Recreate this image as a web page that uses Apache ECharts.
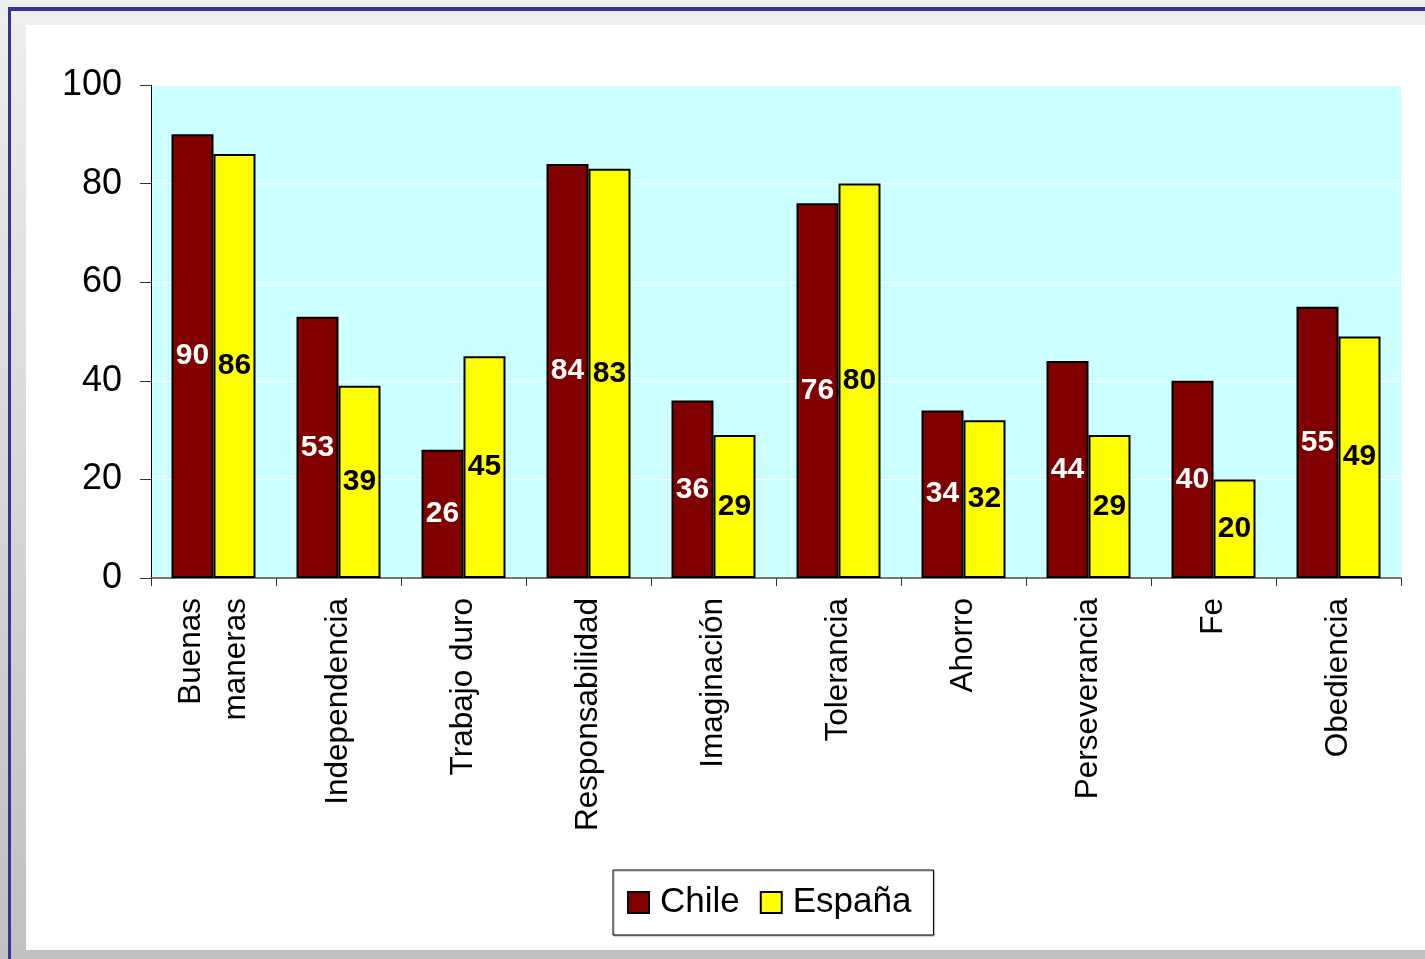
<!DOCTYPE html>
<html>
<head>
<meta charset="utf-8">
<script src="https://cdn.jsdelivr.net/npm/echarts@6/dist/echarts.min.js"></script>
<style>
  html, body { margin:0; padding:0; width:1425px; height:959px; overflow:hidden; }
  body { background: linear-gradient(#EEEEEE, #C0C0C0); position:relative; font-family: "Liberation Sans", Arial, sans-serif; }
  #topbar { position:absolute; left:0; top:0; width:1425px; height:25px; background:#EEEEEE; }
  #blueTop { position:absolute; left:8px; top:7px; width:1417px; height:4px; background:#333399; }
  #blueLeft { position:absolute; left:8px; top:7px; width:3px; height:952px; background:#333399; }
  #white { position:absolute; left:26px; top:25px; width:1399px; height:925px; background:#FFFFFF; }
  #bottom { position:absolute; left:0; top:950px; width:1425px; height:9px; background:#C0C0C0; }
  #chart { position:absolute; left:0; top:0; width:1425px; height:959px; }
</style>
</head>
<body>
<div id="topbar"></div>
<div id="white"></div>
<div id="bottom"></div>
<div id="blueTop"></div>
<div id="blueLeft"></div>
<div id="chart"></div>
<script>
const categories = ["Buenas\nmaneras", "Independencia", "Trabajo duro", "Responsabilidad", "Imaginación", "Tolerancia", "Ahorro", "Perseverancia", "Fe", "Obediencia"];
const chileValues = [90, 53, 26, 84, 36, 76, 34, 44, 40, 55];
const espanaValues = [86, 39, 45, 83, 29, 80, 32, 29, 20, 49];
const yTicks = [0, 20, 40, 60, 80, 100];

const chart = echarts.init(document.getElementById('chart'), null, {renderer: 'canvas'});
const font = '"Liberation Sans", Arial, sans-serif';
chart.setOption({
  animation: false,
  backgroundColor: 'transparent',
  textStyle: { fontFamily: font },
  grid: { left: 151, right: 24, top: 85, bottom: 381, show: true, backgroundColor: '#CCFFFF', borderWidth: 0 },
  legend: {
    top: 870,
    left: 613,
    itemWidth: 21,
    itemHeight: 21,
    itemGap: 20,
    padding: [15, 22, 15, 14],
    borderColor: '#000',
    borderWidth: 1,
    backgroundColor: '#fff',
    shadowColor: 'rgba(0,0,0,0.35)',
    shadowOffsetX: 1, shadowOffsetY: 1, shadowBlur: 1,
    textStyle: { fontSize: 35, color: '#000', fontFamily: font, padding: [0,0,0,6] },
    icon: 'rect',
    itemStyle: { borderColor: '#000', borderWidth: 2 },
    data: ['Chile', 'España']
  },
  xAxis: {
    type: 'category',
    data: categories,
    axisLine: { show: true, lineStyle: { color: '#777', width: 2 } },
    axisTick: { show: true, length: 8, lineStyle: { color: '#333', width: 1 } },
    axisLabel: { rotate: 90, fontSize: 31.5, color: '#000', margin: 20, lineHeight: 45, fontFamily: font, interval: 0 }
  },
  yAxis: {
    type: 'value',
    min: 0, max: 100, interval: 20,
    axisLine: { show: true, lineStyle: { color: '#000', width: 1 } },
    axisTick: { show: true, length: 11, lineStyle: { color: '#333', width: 1 }, customValues: yTicks },
    axisLabel: { fontSize: 36, color: '#000', margin: 29, fontFamily: font, customValues: yTicks },
    splitLine: { show: true, lineStyle: { color: '#FFFFFF', width: 1 } }
  },
  series: [
    {
      name: 'Chile', type: 'bar', data: chileValues, barWidth: 42, barGap: '0%',
      itemStyle: { color: '#800000', borderColor: '#000', borderWidth: 2 },
      label: { show: true, position: 'inside', color: '#fff', fontSize: 30, fontWeight: 'bold', fontFamily: font }
    },
    {
      name: 'España', type: 'bar', data: espanaValues, barWidth: 42, barGap: '0%',
      itemStyle: { color: '#FFFF00', borderColor: '#000', borderWidth: 2 },
      label: { show: true, position: 'inside', color: '#000', fontSize: 30, fontWeight: 'bold', fontFamily: font }
    }
  ]
});
</script>
</body>
</html>
